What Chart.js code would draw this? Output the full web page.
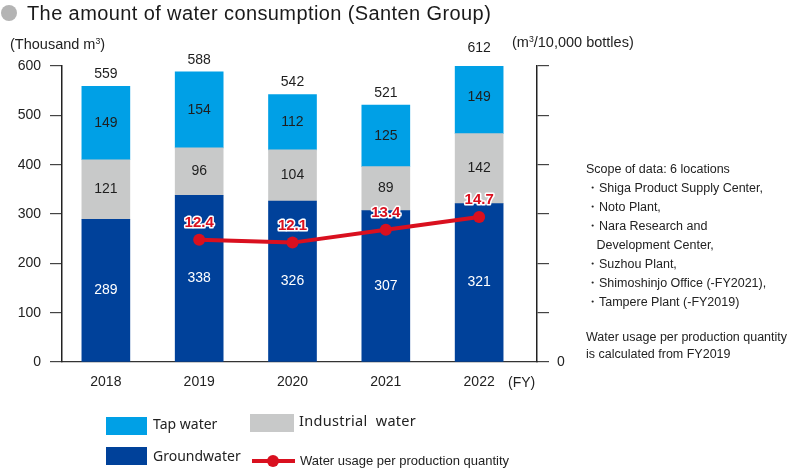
<!DOCTYPE html>
<html>
<head>
<meta charset="utf-8">
<script src="https://cdn.jsdelivr.net/npm/chart.js@4.4.0/dist/chart.umd.min.js"></script>
<style>
  html, body { margin: 0; padding: 0; background: #fff; }
  #wrap { position: relative; width: 800px; height: 470px; font-family: "Liberation Sans", Arial, sans-serif; color: #222; }
  #wrap canvas { position: absolute; left: 0; top: 0; }
  .t { position: absolute; white-space: nowrap; line-height: 1; }
  .box { position: absolute; }
  sup { font-size: 60%; vertical-align: 0.55em; line-height: 0; }
</style>
</head>
<body>
<div id="wrap">
  <canvas id="waterChart" width="800" height="470"></canvas>
  <div class="box" style="left:1px;top:5px;width:16px;height:16px;border-radius:50%;background:#b4b4b4;"></div>
  <div class="t" style="left:27px;top:3px;font-size:20px;letter-spacing:0.4px;color:#1a1a1a;">The amount of water consumption (Santen Group)</div>
  <div class="t" style="left:10px;top:37px;font-size:14.5px;">(Thousand m<sup>3</sup>)</div>
  <div class="t" style="left:512px;top:35px;font-size:14.5px;">(m<sup>3</sup>/10,000 bottles)</div>
  <div class="t" style="left:508px;top:375px;font-size:14px;">(FY)</div>
  <div id="notes" class="t" style="left:586px;top:160px;font-size:12.5px;line-height:19px;">
    Scope of data: 6 locations<br>
    ・Shiga Product Supply Center,<br>
    ・Noto Plant,<br>
    ・Nara Research and<br>
    &nbsp;&nbsp;&nbsp;Development Center,<br>
    ・Suzhou Plant,<br>
    ・Shimoshinjo Office (-FY2021),<br>
    ・Tampere Plant (-FY2019)<br>
    <div style="height:17px"></div>
    <div style="line-height:17px">Water usage per production quantity<br>is calculated from FY2019</div>
  </div>
  <div id="legend"></div>
</div>
<script>
const years = ["2018", "2019", "2020", "2021", "2022"];
const groundwater = [289, 338, 326, 307, 321];
const industrial = [121, 96, 104, 89, 142];
const tapWater = [149, 154, 112, 125, 149];
const usageYears = [1, 2, 3, 4];
const usagePerQty = [12.4, 12.1, 13.4, 14.7];
const leftTicks = [0, 100, 200, 300, 400, 500, 600];

const colGround = "#00419a";
const colIndustrial = "#c8c9c9";
const colTap = "#00a0e6";
const colLine = "#d9101f";

function points(values, xs) {
  return values.map(function (v, i) { return { x: xs ? xs[i] : i, y: v }; });
}

// legend (custom 2x2 layout)
const legend = document.getElementById("legend");
legend.innerHTML =
  '<div class="box" style="left:106px;top:417px;width:41px;height:18px;background:' + colTap + '"></div>' +
  '<div class="t" style="left:153px;top:417px;font-size:14px;font-family:\'Noto Sans\',sans-serif;">Tap water</div>' +
  '<div class="box" style="left:250px;top:414px;width:44px;height:18px;background:' + colIndustrial + '"></div>' +
  '<div class="t" style="left:299px;top:413px;font-size:14.5px;letter-spacing:0.3px;font-family:\'Noto Sans\',sans-serif;">Industrial&nbsp; water</div>' +
  '<div class="box" style="left:106px;top:447px;width:41px;height:18px;background:' + colGround + '"></div>' +
  '<div class="t" style="left:153px;top:449px;font-size:14px;font-family:\'Noto Sans\',sans-serif;">Groundwater</div>' +
  '<div class="box" style="left:252px;top:459px;width:43px;height:4px;background:' + colLine + '"></div>' +
  '<div class="box" style="left:267px;top:455px;width:12px;height:12px;border-radius:50%;background:' + colLine + '"></div>' +
  '<div class="t" style="left:300px;top:454px;font-size:13px;">Water usage per production quantity</div>';

const labelPlugin = {
  id: "labels",
  afterDatasetsDraw: function (chart) {
    const ctx = chart.ctx;
    ctx.save();
    ctx.textAlign = "center";
    ctx.textBaseline = "middle";
    ctx.font = "14px 'Liberation Sans', Arial, sans-serif";
    [0, 1, 2].forEach(function (di) {
      const meta = chart.getDatasetMeta(di);
      meta.data.forEach(function (bar, i) {
        const v = chart.data.datasets[di].data[i].y;
        ctx.fillStyle = di === 0 ? "#ffffff" : "#1e1e1e";
        ctx.fillText(String(v), bar.x, (bar.y + bar.base) / 2);
      });
    });
    const topMeta = chart.getDatasetMeta(2);
    topMeta.data.forEach(function (bar, i) {
      const total = groundwater[i] + industrial[i] + tapWater[i];
      ctx.fillStyle = "#1e1e1e";
      ctx.fillText(String(total), bar.x, bar.y - 12);
    });
    const lineMeta = chart.getDatasetMeta(3);
    ctx.font = "bold 15px 'Liberation Sans', Arial, sans-serif";
    ctx.lineJoin = "round";
    lineMeta.data.forEach(function (pt, i) {
      const txt = usagePerQty[i].toFixed(1);
      ctx.strokeStyle = "#ffffff";
      ctx.lineWidth = 3;
      ctx.strokeText(txt, pt.x, pt.y - 17);
      ctx.fillStyle = colLine;
      ctx.fillText(txt, pt.x, pt.y - 17);
    });
    ctx.restore();
  }
};

new Chart(document.getElementById("waterChart"), {
  type: "bar",
  data: {
    datasets: [
      { label: "Groundwater", data: points(groundwater), backgroundColor: colGround, order: 1 },
      { label: "Industrial water", data: points(industrial), backgroundColor: colIndustrial, order: 1 },
      { label: "Tap water", data: points(tapWater), backgroundColor: colTap, order: 1 },
      {
        type: "line",
        label: "Water usage per production quantity",
        data: points(usagePerQty, usageYears),
        yAxisID: "y2",
        borderColor: colLine,
        backgroundColor: colLine,
        borderWidth: 4,
        pointRadius: 6,
        pointBackgroundColor: colLine,
        pointBorderWidth: 0,
        order: 0
      }
    ]
  },
  options: {
    responsive: false,
    animation: false,
    grouped: false,
    barThickness: 48,
    layout: { padding: { top: 66, left: 0, right: 0, bottom: 0 } },
    scales: {
      x: {
        type: "linear",
        offset: false,
        min: -0.47,
        max: 4.62,
        grid: { display: false, drawTicks: false },
        border: { display: true, color: "#333", width: 1.2 },
        ticks: {
          stepSize: 1,
          includeBounds: false,
          padding: 12,
          color: "#222",
          font: { size: 14, family: "'Liberation Sans', Arial, sans-serif" },
          callback: function (v) { return years[v] !== undefined ? years[v] : ""; }
        },
        afterFit: function (s) { s.height = 108; }
      },
      y: {
        stacked: true,
        min: 0,
        max: 600,
        afterBuildTicks: function (s) { s.ticks = leftTicks.map(function (v) { return { value: v }; }); },
        grid: { drawOnChartArea: false, tickLength: 12, color: "#444", lineWidth: 1.2 },
        border: { color: "#222", width: 1.5 },
        ticks: {
          padding: 9,
          color: "#222",
          font: { size: 14, family: "'Liberation Sans', Arial, sans-serif" }
        },
        afterFit: function (s) { s.width = 62; }
      },
      y2: {
        position: "right",
        min: 0,
        max: 30,
        grid: { drawOnChartArea: false, tickLength: 12, color: "#444", lineWidth: 1.2 },
        border: { color: "#222", width: 1.5 },
        ticks: {
          stepSize: 5,
          padding: 8,
          color: "#222",
          font: { size: 14, family: "'Liberation Sans', Arial, sans-serif" },
          callback: function (v) { return v === 0 ? "0" : ""; }
        },
        afterFit: function (s) { s.width = 263; }
      }
    },
    plugins: {
      legend: { display: false },
      tooltip: { enabled: false }
    }
  },
  plugins: [labelPlugin]
});
</script>
</body>
</html>
